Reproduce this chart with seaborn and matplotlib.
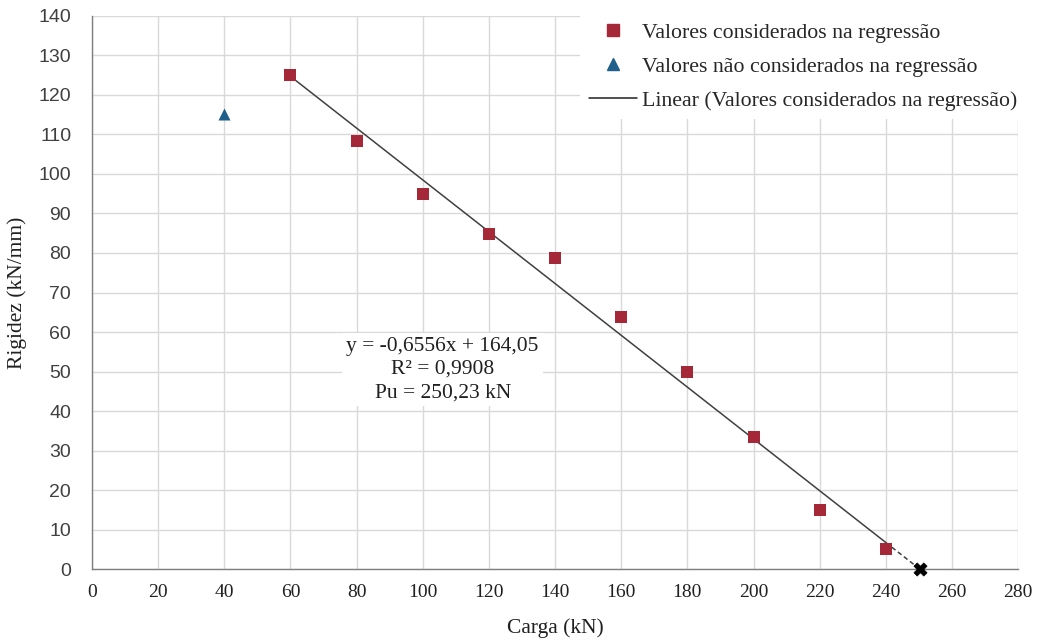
import numpy as np
import pandas as pd
import matplotlib
matplotlib.use("Agg")
import matplotlib.pyplot as plt
import seaborn as sns
from matplotlib.lines import Line2D

# ---- data ----
carga_reg = [60, 80, 100, 120, 140, 160, 180, 200, 220, 240]
rigidez_reg = [125.1, 108.4, 94.9, 84.8, 78.7, 63.8, 49.9, 33.4, 14.9, 5.1]
carga_nreg = [40]
rigidez_nreg = [115.2]
slope = -0.6556
intercept = 164.05
r2 = 0.9908
pu = 250.23
x_ticks = list(range(0, 281, 20))
y_ticks = list(range(0, 141, 10))

sns.set_theme(style="white")
plt.rcParams['font.family'] = ['Liberation Serif', 'DejaVu Serif']

RED = '#A52838'
BLUE = '#1F5F8B'
GRID = '#D9D9D9'
AXC = '#7F7F7F'

fig = plt.figure(figsize=(10.4, 6.39), dpi=100)
ax = fig.add_axes([0.0885, 0.1095, 0.8905, 0.8655])

df_reg = pd.DataFrame({"Carga": carga_reg, "Rigidez": rigidez_reg})
df_nreg = pd.DataFrame({"Carga": carga_nreg, "Rigidez": rigidez_nreg})

# trendline (solid over data range, dashed extrapolation to Pu)
x_lo, x_hi = min(carga_reg), max(carga_reg)
line_df = pd.DataFrame({"Carga": [x_lo, x_hi],
                        "Rigidez": [slope * x_lo + intercept, slope * x_hi + intercept]})
ext_df = pd.DataFrame({"Carga": [x_hi, pu],
                       "Rigidez": [slope * x_hi + intercept, 0]})
sns.lineplot(data=line_df, x="Carga", y="Rigidez", ax=ax, color='#404040', lw=1.1, zorder=3)
sns.lineplot(data=ext_df, x="Carga", y="Rigidez", ax=ax, color='#404040', lw=1.1,
             linestyle=(0, (3, 2)), zorder=3)

sns.scatterplot(data=df_reg, x="Carga", y="Rigidez", ax=ax, marker='s', s=70,
                color=RED, edgecolor=RED, linewidth=0, zorder=4)
sns.scatterplot(data=df_nreg, x="Carga", y="Rigidez", ax=ax, marker='^', s=75,
                color=BLUE, edgecolor=BLUE, linewidth=0, zorder=4)
sns.scatterplot(x=[pu], y=[0], ax=ax, marker='X', s=90, color='black',
                edgecolor='black', linewidth=0.5, zorder=5, clip_on=False)

ax.set_xlim(0, 280)
ax.set_ylim(0, 140)
ax.set_xticks(x_ticks)
ax.set_yticks(y_ticks)
ax.set_xticklabels([str(t) for t in x_ticks], fontsize=14, family=['Liberation Serif'])
ax.set_yticklabels([str(t) for t in y_ticks], fontsize=14, family=['Liberation Sans'],
                   color='#404040')
ax.grid(True, color=GRID, lw=1)
ax.set_axisbelow(True)
for s in ['top', 'right']:
    ax.spines[s].set_visible(False)
for s in ['left', 'bottom']:
    ax.spines[s].set_color(AXC)
    ax.spines[s].set_linewidth(1)
ax.tick_params(axis='both', which='both', direction='out', length=5, width=1,
               color=AXC, pad=6)
ax.tick_params(axis='y', pad=10)
ax.tick_params(axis='x', labelcolor='#202020')

ax.set_xlabel("Carga (kN)", fontsize=15.5, color='#202020', labelpad=12)
ax.set_ylabel("Rigidez (kN/mm)", fontsize=15.5, color='#202020', labelpad=8)

eq = (f"y = {slope:.4f}x + {intercept:.2f}".replace('.', ',') + "\n"
      + f"R² = {r2:.4f}".replace('.', ',') + "\n"
      + f"Pu = {pu:.2f} kN".replace('.', ','))
ax.text(106, 50.5, eq, ha='center', va='center', fontsize=15.5, color='#202020',
        linespacing=1.3, zorder=6,
        bbox=dict(facecolor='white', edgecolor='none', pad=3))

handles = [
    Line2D([], [], marker='s', color=RED, linestyle='none', markersize=8),
    Line2D([], [], marker='^', color=BLUE, linestyle='none', markersize=8),
    Line2D([], [], color='#202020', lw=1.1),
]
labels = ["Valores considerados na regressão",
          "Valores não considerados na regressão",
          "Linear (Valores considerados na regressão)"]
leg = fig.legend(handles, labels, loc='upper left',
                 bbox_to_anchor=(580 / 1040, 1 - 14 / 639),
                 frameon=True, fontsize=15.7, handlelength=2.2, handletextpad=0.25,
                 labelspacing=0.62, borderaxespad=0.0, borderpad=0.4)
leg.get_frame().set_facecolor('white')
leg.get_frame().set_edgecolor('none')
leg.get_frame().set_alpha(1)

fig.savefig("out.png", dpi=100, facecolor='white')
